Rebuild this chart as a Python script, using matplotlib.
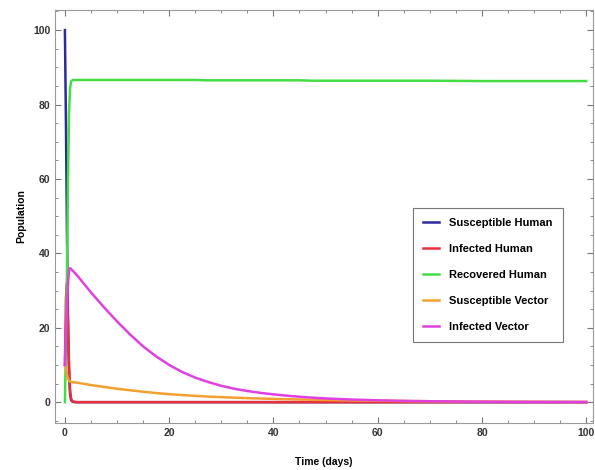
import numpy as np
import matplotlib
matplotlib.use("Agg")
import matplotlib.pyplot as plt
from matplotlib.ticker import MultipleLocator

# values
t = [0, 0.2, 0.4, 0.6, 0.8, 1.0, 1.2, 1.5, 2, 2.5, 5, 7.5, 10, 12.5, 15, 17.5,
     20, 22.5, 25, 27.5, 30, 32.5, 35, 37.5, 40, 42.5, 45, 47.5, 50, 55,
     60, 65, 70, 80, 90, 100]

s_human = [100, 75, 45, 20, 7, 2, 0.5, 0.1, 0, 0, 0, 0, 0, 0, 0, 0,
           0, 0, 0, 0, 0, 0, 0, 0, 0, 0, 0, 0, 0, 0,
           0, 0, 0, 0, 0, 0]
i_human = [10, 28, 32, 22, 10, 3, 0.8, 0.2, 0.05, 0, 0, 0, 0, 0, 0, 0,
           0, 0, 0, 0, 0, 0, 0, 0, 0, 0, 0, 0, 0, 0,
           0, 0, 0, 0, 0, 0]
r_human = [0, 15, 35, 60, 78, 84.5, 86.2, 86.6, 86.6, 86.6, 86.6, 86.6, 86.6, 86.6, 86.6, 86.6,
           86.6, 86.6, 86.6, 86.5, 86.5, 86.5, 86.5, 86.5, 86.5, 86.5, 86.5, 86.4, 86.4, 86.4,
           86.4, 86.4, 86.4, 86.3, 86.3, 86.3]
s_vector = [12, 9, 7.5, 6.3, 5.8, 5.5, 5.45, 5.4, 5.3, 5.2, 4.6, 4.1, 3.6, 3.2, 2.8, 2.45,
            2.15, 1.9, 1.7, 1.5, 1.35, 1.2, 1.08, 0.98, 0.88, 0.8, 0.72, 0.65, 0.58, 0.47,
            0.38, 0.3, 0.24, 0.15, 0.1, 0.06]
i_vector = [10, 18, 26, 32, 35.5, 36, 35.8, 35.3, 34.6, 33.8, 29.5, 25.5, 21.7, 18.2, 15.0, 12.3,
            10.0, 8.1, 6.6, 5.4, 4.4, 3.6, 3.0, 2.5, 2.1, 1.75, 1.45, 1.2, 1.0, 0.7,
            0.5, 0.35, 0.25, 0.12, 0.06, 0.03]

labels = ["Susceptible Human", "Infected Human", "Recovered Human",
          "Susceptible Vector", "Infected Vector"]
colors = ["#2b2b9c", "#e8303a", "#44dd44", "#f2a030", "#e040e0"]

plt.rcParams["font.family"] = ["Liberation Sans", "DejaVu Sans"]

fig = plt.figure(figsize=(5.95, 4.70), dpi=100)
ax = fig.add_axes([55/595, 47/470, 538/595, 413/470])

for y, lab, c in zip([s_human, i_human, r_human, s_vector, i_vector], labels, colors):
    ax.plot(t, y, color=c, lw=1.8, label=lab)

ax.set_xlim(-1.9, 101.3)
ax.set_ylim(-5.6, 105.4)
ax.xaxis.set_major_locator(MultipleLocator(20))
ax.xaxis.set_minor_locator(MultipleLocator(5))
ax.yaxis.set_major_locator(MultipleLocator(20))
ax.yaxis.set_minor_locator(MultipleLocator(5))
ax.tick_params(which="both", direction="in", top=True, right=True,
               color="#777777", labelsize=7.5, labelcolor="#333333")
ax.tick_params(which="major", length=4)
ax.tick_params(which="minor", length=2)
for lbl in ax.get_xticklabels() + ax.get_yticklabels():
    lbl.set_fontweight("bold")
for sp in ax.spines.values():
    sp.set_color("#999999")

ax.set_xlabel("Time (days)", fontsize=7.5, fontweight="bold", labelpad=14)
ax.set_ylabel("Population", fontsize=7.5, fontweight="bold", labelpad=5)

leg = ax.legend(loc="upper left", bbox_to_anchor=(0.665, 0.521), borderaxespad=0,
                prop={"weight": "bold", "size": 8}, fancybox=False, framealpha=1,
                edgecolor="#777777", handlelength=1.5, labelspacing=1.45,
                borderpad=0.9, handletextpad=0.9)
leg.get_frame().set_linewidth(0.8)

fig.savefig("out.png", dpi=100)
